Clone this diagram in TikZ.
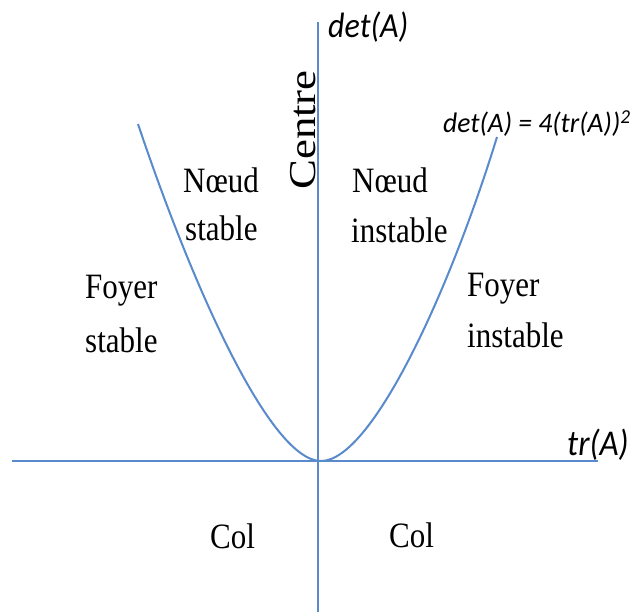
\documentclass[tikz,border=0pt]{standalone}
\usepackage{fontspec}
\setmainfont{Liberation Serif}
\newfontfamily\calib{Carlito}
\definecolor{axblue}{RGB}{88,138,204}
\begin{document}
\begin{tikzpicture}[x=1pt,y=-1pt,
  axline/.style={draw=axblue,line width=2pt},
  lbl/.style={font=\fontsize{31}{31}\selectfont, inner sep=0pt, anchor=base west, yscale=1.15, transform shape},
  ilbl/.style={font=\calib\itshape\fontsize{32}{32}\selectfont, inner sep=0pt, anchor=base west, yscale=1.1, transform shape}]
\useasboundingbox (0,0) rectangle (636,612);
% axes
\coordinate (hl) at (12,461);
\coordinate (hr) at (598,461);
\coordinate (vt) at (318,22);
\coordinate (vb) at (318,612);
\draw[axline] (hl) -- (hr);
\draw[axline] (vt) -- (vb);
% curve
\coordinate (v) at (321,461);
\coordinate (lt) at (138,124);
\coordinate (rt) at (497,137);
\draw[axline] (lt) .. controls (192,285) and (270,461) .. (v)
  .. controls (372,461) and (450,290) .. (rt);
% labels
\node[ilbl] (det) at (328,38) {det(A)};
\node[ilbl,font=\calib\itshape\fontsize{33}{33}\selectfont] (tr) at (567,455) {tr(A)};
\node[ilbl,font=\calib\itshape\fontsize{27}{27}\selectfont,yscale=0.95,xscale=1.02] (eq) at (443,133) {det(A) = 4(tr(A))\textsuperscript{2}};
\node[inner sep=0pt, anchor=base west, rotate=90, font=\fontsize{38}{38}\selectfont] (centre) at (315,190) {\scalebox{1.18}[1]{Centre}};
\node[lbl] (fs1) at (85,298) {Foyer};
\node[lbl] (fs2) at (85,352) {stable};
\node[lbl] (ns1) at (183,193) {Nœud};
\node[lbl] (ns2) at (185,240) {stable};
\node[lbl] (ni1) at (352,193) {Nœud};
\node[lbl] (ni2) at (351,242) {instable};
\node[lbl] (fi1) at (467,296) {Foyer};
\node[lbl] (fi2) at (467,347) {instable};
\node[lbl] (c1) at (210,548) {Col};
\node[lbl] (c2) at (389,547) {Col};
\end{tikzpicture}
\end{document}
